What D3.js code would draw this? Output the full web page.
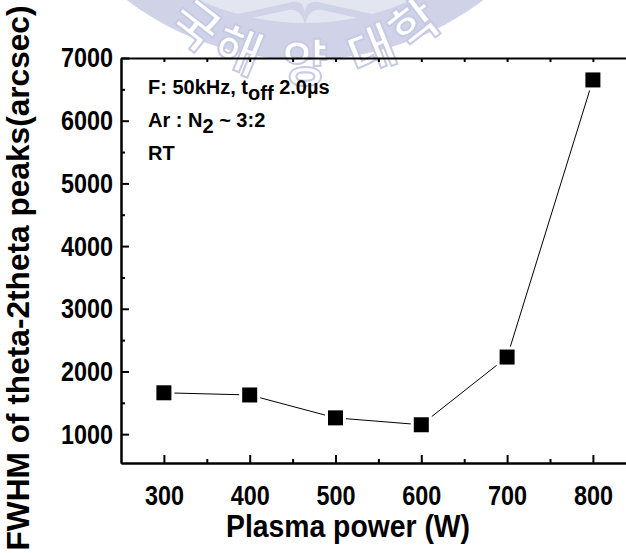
<!DOCTYPE html>
<html>
<head>
<meta charset="utf-8">
<script src="https://cdn.jsdelivr.net/npm/d3@7"></script>
<style>
  html, body { margin: 0; padding: 0; background: #fff; }
  svg { display: block; }
  text { font-family: "Liberation Sans", Arial, sans-serif; font-weight: bold; fill: #000; }
</style>
</head>
<body>
<svg id="chart" width="626" height="553"></svg>
<script>
// Plasma power (W) and FWHM of the theta-2theta peaks (arcsec)
const power = [300, 400, 500, 600, 700, 800];
const fwhm = [1660, 1625, 1260, 1150, 2230, 6650];

const xMajorTicks = [300, 400, 500, 600, 700, 800];
const xMinorTicks = [350, 450, 550, 650, 750, 850];
const yMajorTicks = [1000, 2000, 3000, 4000, 5000, 6000, 7000];
const yMinorTicks = [1500, 2500, 3500, 4500, 5500, 6500];

const noteLines = [
  [["F: 50kHz, t", 0], ["off", 1], [" 2.0\u00b5s", 0]],
  [["Ar : N", 0], ["2", 1], [" ~ 3:2", 0]],
  [["RT", 0]]
];
const xTitle = "Plasma power (W)";
const yTitle = "FWHM of theta-2theta peaks(arcsec)";

const sealChars = ["국", "해", "양", "대", "학"];
const sealAngles = [-38, -22, 0, 22, 38];

const svg = d3.select("#chart");

const plotLeft = 121, plotTop = 58, plotBottom = 463;
const x = d3.scaleLinear().domain([250, 850]).range([plotLeft, plotLeft + 600 * 0.858]);
const y = d3.scaleLinear().domain([540, 7000]).range([plotBottom, plotTop]);

// University seal watermark, faint, across the top
const lav = "#d0d3e8";
const seal = svg.append("g").attr("class", "seal");
seal.append("circle").attr("cx", 305).attr("cy", -235).attr("r", 295).attr("fill", lav);
seal.append("circle").attr("cx", 305).attr("cy", -235).attr("r", 258).attr("fill", "#e3e5f1");
// open book emblem
seal.append("path")
  .attr("d", "M238,14 L288,3 Q304,-2 305,14 Q306,-2 322,3 L372,14 L372,21 L322,10 Q308,8 305,26 Q302,8 288,10 L238,21 Z")
  .attr("fill", lav);
// lettering set on an arc below the emblem
const ring = { cx: 305, cy: -115, r: 174 };
seal.selectAll("text.seal-char").data(sealChars).join("text")
  .attr("class", "seal-char")
  .attr("transform", (d, i) => {
    const deg = sealAngles[i];
    const a = deg * Math.PI / 180;
    const px = ring.cx + ring.r * Math.sin(a);
    const py = ring.cy + ring.r * Math.cos(a);
    return `translate(${px},${py}) rotate(${-deg})`;
  })
  .attr("text-anchor", "middle")
  .attr("dominant-baseline", "central")
  .style("font-family", "'Noto Sans CJK KR', sans-serif")
  .style("font-size", "50px")
  .style("font-weight", "bold")
  .style("fill", "#ffffff")
  .style("stroke", "#c6cae3")
  .style("stroke-width", 2)
  .text(d => d);

// Axes
const tickFont = g => {
  g.selectAll(".tick text")
    .style("font-size", "28px")
    .attr("textLength", d => String(d).length * 13)
    .attr("lengthAdjust", "spacingAndGlyphs");
};
const axisStyle = g => {
  g.select(".domain").attr("stroke", "#000").attr("stroke-width", 2);
  g.selectAll(".tick line").attr("stroke", "#000").attr("stroke-width", 2);
  g.selectAll(".tick text").style("font-family", "'Liberation Sans', Arial, sans-serif").style("font-weight", "bold");
};

svg.append("g").attr("transform", `translate(0,${plotBottom})`)
  .call(d3.axisBottom(x).tickValues(xMajorTicks).tickSize(-8).tickSizeOuter(0).tickPadding(22).tickFormat(d3.format("d")))
  .call(axisStyle).call(tickFont);
svg.append("g").attr("transform", `translate(0,${plotBottom})`)
  .call(d3.axisBottom(x).tickValues(xMinorTicks).tickSize(-4).tickSizeOuter(0).tickFormat(""))
  .call(axisStyle);

svg.append("g").attr("transform", `translate(0,${plotTop})`)
  .call(d3.axisTop(x).tickValues(xMajorTicks.concat(xMinorTicks)).tickSize(-4).tickSizeOuter(0).tickFormat(""))
  .call(axisStyle);

svg.append("g").attr("transform", `translate(${plotLeft},0)`)
  .call(d3.axisLeft(y).tickValues(yMajorTicks).tickSize(-8).tickSizeOuter(0).tickPadding(8).tickFormat(d3.format("d")))
  .call(axisStyle).call(tickFont);
svg.append("g").attr("transform", `translate(${plotLeft},0)`)
  .call(d3.axisLeft(y).tickValues(yMinorTicks).tickSize(-4).tickSizeOuter(0).tickFormat(""))
  .call(axisStyle);

// Data line and square markers
const pts = power.map((p, i) => ({ p, v: fwhm[i] }));
svg.append("path").datum(pts)
  .attr("fill", "none").attr("stroke", "#000").attr("stroke-width", 1)
  .attr("d", d3.line().x(d => x(d.p)).y(d => y(d.v)));

const m = 15, gap = 3;
svg.selectAll("rect.halo").data(pts).join("rect").attr("class", "halo")
  .attr("x", d => x(d.p) - m / 2 - gap).attr("y", d => y(d.v) - m / 2 - gap)
  .attr("width", m + 2 * gap).attr("height", m + 2 * gap).attr("fill", "#fff");
svg.selectAll("rect.mark").data(pts).join("rect").attr("class", "mark")
  .attr("x", d => x(d.p) - m / 2).attr("y", d => y(d.v) - m / 2)
  .attr("width", m).attr("height", m).attr("fill", "#000");

// Condition notes (subscripts dropped by 6px)
const notes = svg.append("g").attr("transform", "translate(148,0)");
noteLines.forEach((line, i) => {
  const t = notes.append("text").attr("y", 94 + i * 33).style("font-size", "20px");
  let shift = 0;
  line.forEach(([s, sub]) => {
    const target = sub ? 6 : 0;
    t.append("tspan").attr("dy", target - shift).text(s);
    shift = target;
  });
});

// Axis titles
svg.append("text").attr("x", 348).attr("y", 537)
  .attr("text-anchor", "middle").style("font-size", "31px")
  .attr("textLength", 244).attr("lengthAdjust", "spacingAndGlyphs").text(xTitle);

svg.append("text")
  .attr("transform", "translate(29,278) rotate(-90)")
  .attr("text-anchor", "middle")
  .attr("textLength", 545).attr("lengthAdjust", "spacingAndGlyphs")
  .style("font-size", "31px").text(yTitle);
</script>
</body>
</html>
